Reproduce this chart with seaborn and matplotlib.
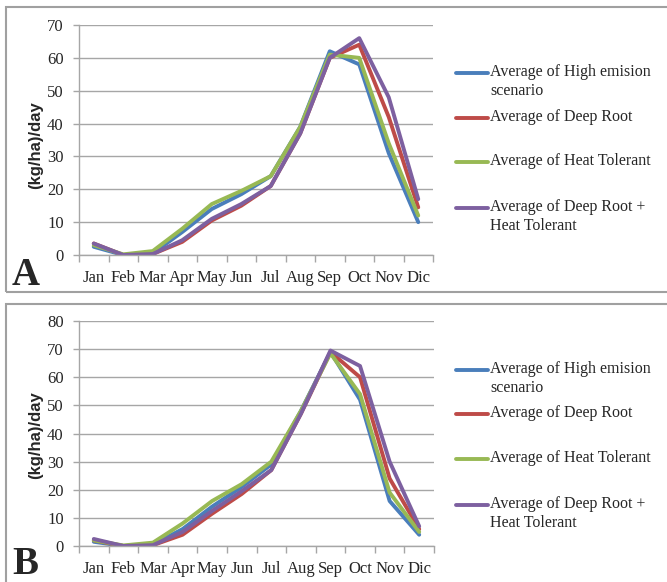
import matplotlib
matplotlib.use("Agg")
import matplotlib.pyplot as plt
import seaborn as sns
import pandas as pd
import numpy as np
from matplotlib.lines import Line2D
from matplotlib.patches import Rectangle

months = ["Jan", "Feb", "Mar", "Apr", "May", "Jun", "Jul", "Aug", "Sep", "Oct", "Nov", "Dic"]
series_names = ["Average of High emision\nscenario", "Average of Deep Root",
                "Average of Heat Tolerant", "Average of Deep Root +\nHeat Tolerant"]
colors = ["#4A7EBB", "#BE4B48", "#98B954", "#7D60A0"]

# Panel A
a_high = [2.5, 0.0, 0.5, 7.0, 14.0, 18.5, 24.0, 39.0, 62.0, 58.0, 31.0, 10.0]
a_deep = [3.5, 0.0, 0.3, 4.0, 10.5, 15.0, 21.0, 37.0, 60.0, 64.0, 42.0, 14.5]
a_heat = [3.0, 0.2, 1.2, 8.0, 15.5, 19.5, 24.0, 39.0, 61.0, 60.0, 34.0, 12.0]
a_both = [3.5, 0.0, 0.3, 4.5, 11.0, 15.5, 21.0, 37.0, 60.0, 66.0, 48.0, 17.0]

# Panel B
b_high = [1.5, 0.0, 0.5, 6.0, 14.0, 21.0, 29.0, 48.0, 69.0, 52.0, 16.0, 4.0]
b_deep = [2.0, 0.0, 0.3, 4.0, 11.5, 18.5, 27.0, 47.0, 69.0, 60.0, 24.0, 6.0]
b_heat = [2.0, 0.2, 1.2, 8.0, 16.0, 22.0, 30.0, 48.0, 68.5, 54.0, 19.0, 5.0]
b_both = [2.5, 0.0, 0.3, 5.0, 12.5, 19.5, 27.0, 47.0, 69.5, 64.0, 30.0, 7.0]

panel_letters = ["A", "B"]
y_max = [70, 80]

sns.set_theme(style="white")
serif = ["Liberation Serif", "DejaVu Serif"]
plt.rcParams["font.family"] = serif

W, H = 667, 582
fig = plt.figure(figsize=(W / 100, H / 100), dpi=100)

def fx(px):
    return px / W

def fy(py):
    return 1 - py / H

panels = [
    dict(data=[a_high, a_deep, a_heat, a_both], ax=(79, 433, 25, 255),
         box=(6, 7, 292), letter=(12, 285), leg_y=[73, 118, 162, 208], ylab_y=145),
    dict(data=[b_high, b_deep, b_heat, b_both], ax=(79, 434, 321, 546),
         box=(6, 304, 600), letter=(12, 574), leg_y=[370, 414, 459, 505], ylab_y=435),
]

grid_c = "#A6A6A6"
for k, p in enumerate(panels):
    # panel frame
    x0, ytop, ybot = p["box"]
    fig.add_artist(Rectangle((fx(x0), fy(ybot)), fx(700 - x0), fy(ytop) - fy(ybot),
                             transform=fig.transFigure, fill=False,
                             edgecolor="#A0A0A0", linewidth=1.5, clip_on=False))
    l, r, t, b = p["ax"]
    ax = fig.add_axes([fx(l), fy(b), fx(r - l), fy(t) - fy(b)])
    rows = []
    for name, vals in zip(series_names, p["data"]):
        for i, (m, v) in enumerate(zip(months, vals)):
            rows.append(dict(series=name, x=i, value=v))
    df = pd.DataFrame(rows)
    sns.lineplot(data=df, x="x", y="value", hue="series", hue_order=series_names,
                 palette=colors, linewidth=2.8, ax=ax, legend=False, sort=False)
    ax.set_xlim(-0.5, 11.5)
    ax.set_ylim(0, y_max[k])
    ax.set_yticks(np.arange(0, y_max[k] + 1, 10))
    ax.yaxis.grid(True, color=grid_c, linewidth=1.0)
    ax.xaxis.grid(False)
    ax.set_axisbelow(True)
    for s in ["top", "right"]:
        ax.spines[s].set_visible(False)
    for s in ["left", "bottom"]:
        ax.spines[s].set_color(grid_c)
        ax.spines[s].set_linewidth(1.0)
    ax.set_xticks(np.arange(-0.5, 12, 1))
    ax.set_xticklabels([])
    ax.set_xticks(np.arange(12), minor=True)
    ax.set_xticklabels(months, minor=True)
    ax.tick_params(axis="x", which="major", length=5, width=1.0, color=grid_c, direction="out", bottom=True)
    ax.tick_params(axis="x", which="minor", length=0, pad=11, labelsize=12)
    ax.tick_params(axis="y", length=4, width=1.0, color=grid_c, direction="out", left=True,
                   labelsize=12, pad=7)
    for lab in ax.get_xticklabels(minor=True) + ax.get_yticklabels():
        lab.set_fontfamily(serif)
    ax.set_xlabel("")
    ax.set_ylabel("")
    fig.text(fx(36), fy(p["ylab_y"]), "(kg/ha)/day", rotation=90, ha="center", va="center",
             fontsize=12, fontweight="bold", family=["Liberation Sans", "DejaVu Sans"])
    # panel letter
    lx, ly = p["letter"]
    fig.text(fx(lx), fy(ly), panel_letters[k], ha="left", va="baseline", fontsize=28,
             fontweight="bold", family=serif)
    # legend
    for name, c, yy in zip(series_names, colors, p["leg_y"]):
        fig.add_artist(Line2D([fx(456), fx(488)], [fy(yy), fy(yy)], color=c, linewidth=2.8,
                              transform=fig.transFigure))
        fig.text(fx(490), fy(yy - 9), name, ha="left", va="top", fontsize=11.5,
                 family=serif, linespacing=1.25)

fig.savefig("out.png", dpi=100)
